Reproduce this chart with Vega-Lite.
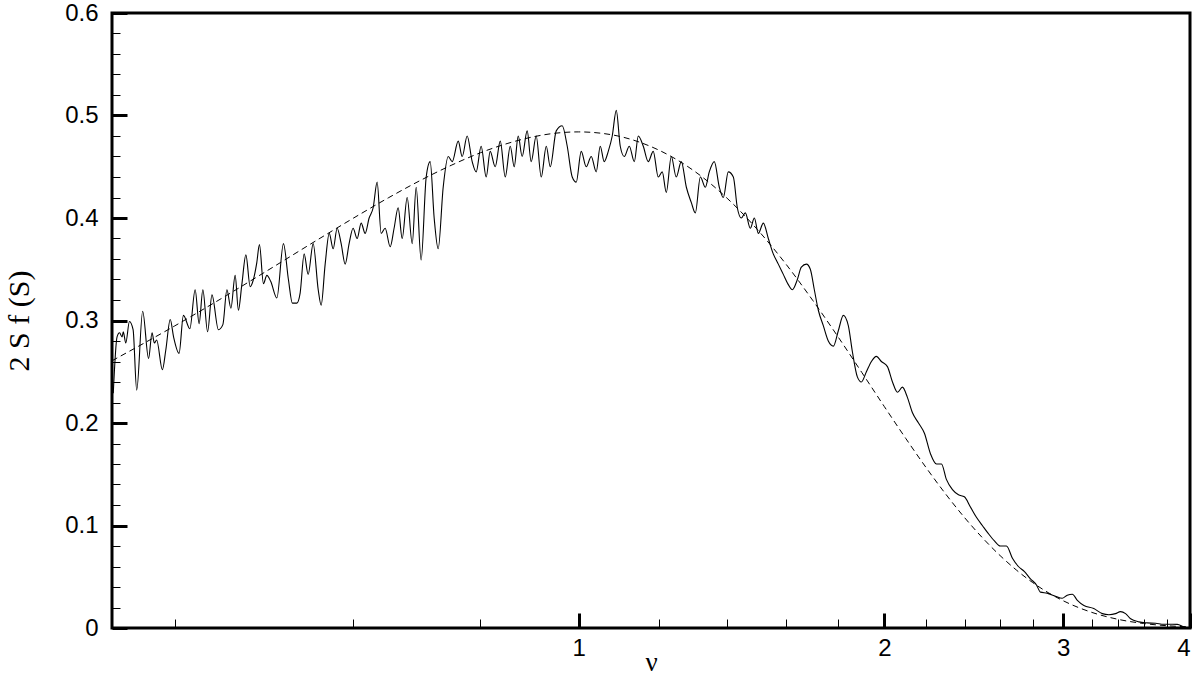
{
  "$schema": "https://vega.github.io/schema/vega-lite/v6.json",
  "width": 1078,
  "height": 615,
  "autosize": "none",
  "padding": {"left": 112, "top": 13, "right": 10, "bottom": 52},
  "background": "white",
  "config": {
    "view": {"stroke": "black", "strokeWidth": 3},
    "axis": {
      "domain": false,
      "grid": false,
      "labelFont": "Liberation Sans",
      "labelFontSize": 24,
      "labelColor": "black",
      "titleFont": "Liberation Serif",
      "titleFontWeight": "normal",
      "titleColor": "black",
      "tickColor": "black"
    }
  },
  "datasets": {
    "solid": [
      {"nu": 0.348, "v": 0.229}, {"nu": 0.351, "v": 0.284}, {"nu": 0.353, "v": 0.288}, {"nu": 0.355, "v": 0.284},
      {"nu": 0.356, "v": 0.289}, {"nu": 0.358, "v": 0.278}, {"nu": 0.361, "v": 0.299}, {"nu": 0.364, "v": 0.291},
      {"nu": 0.367, "v": 0.232}, {"nu": 0.372, "v": 0.309}, {"nu": 0.377, "v": 0.263}, {"nu": 0.380, "v": 0.288},
      {"nu": 0.382, "v": 0.278}, {"nu": 0.384, "v": 0.281}, {"nu": 0.389, "v": 0.252}, {"nu": 0.392, "v": 0.271},
      {"nu": 0.396, "v": 0.301}, {"nu": 0.399, "v": 0.284}, {"nu": 0.404, "v": 0.268}, {"nu": 0.408, "v": 0.305},
      {"nu": 0.414, "v": 0.292}, {"nu": 0.419, "v": 0.330}, {"nu": 0.4228, "v": 0.297}, {"nu": 0.4264, "v": 0.330},
      {"nu": 0.431, "v": 0.289}, {"nu": 0.4353, "v": 0.325}, {"nu": 0.4417, "v": 0.291}, {"nu": 0.4462, "v": 0.296},
      {"nu": 0.4503, "v": 0.330}, {"nu": 0.4544, "v": 0.312}, {"nu": 0.4588, "v": 0.344}, {"nu": 0.4622, "v": 0.310},
      {"nu": 0.4658, "v": 0.335}, {"nu": 0.4701, "v": 0.364}, {"nu": 0.4747, "v": 0.333}, {"nu": 0.4782, "v": 0.340},
      {"nu": 0.4818, "v": 0.356}, {"nu": 0.4848, "v": 0.374}, {"nu": 0.4892, "v": 0.336}, {"nu": 0.4930, "v": 0.344},
      {"nu": 0.4974, "v": 0.338}, {"nu": 0.5043, "v": 0.322}, {"nu": 0.5119, "v": 0.375}, {"nu": 0.5177, "v": 0.340},
      {"nu": 0.5224, "v": 0.317}, {"nu": 0.5277, "v": 0.317}, {"nu": 0.5317, "v": 0.327}, {"nu": 0.5365, "v": 0.365},
      {"nu": 0.5414, "v": 0.345}, {"nu": 0.5476, "v": 0.375}, {"nu": 0.5539, "v": 0.330}, {"nu": 0.5576, "v": 0.315},
      {"nu": 0.5627, "v": 0.355}, {"nu": 0.5679, "v": 0.385}, {"nu": 0.5730, "v": 0.370}, {"nu": 0.5782, "v": 0.390},
      {"nu": 0.5835, "v": 0.375}, {"nu": 0.5888, "v": 0.355}, {"nu": 0.5941, "v": 0.375}, {"nu": 0.5995, "v": 0.390},
      {"nu": 0.6050, "v": 0.380}, {"nu": 0.6106, "v": 0.395}, {"nu": 0.6161, "v": 0.385}, {"nu": 0.6217, "v": 0.400},
      {"nu": 0.6274, "v": 0.410}, {"nu": 0.6331, "v": 0.435}, {"nu": 0.6389, "v": 0.385}, {"nu": 0.6447, "v": 0.390},
      {"nu": 0.6521, "v": 0.372}, {"nu": 0.6579, "v": 0.390}, {"nu": 0.6640, "v": 0.410}, {"nu": 0.6701, "v": 0.380},
      {"nu": 0.6777, "v": 0.420}, {"nu": 0.6855, "v": 0.375}, {"nu": 0.6917, "v": 0.430}, {"nu": 0.6995, "v": 0.359},
      {"nu": 0.7076, "v": 0.440}, {"nu": 0.7140, "v": 0.455}, {"nu": 0.7205, "v": 0.400}, {"nu": 0.7271, "v": 0.370},
      {"nu": 0.7354, "v": 0.430}, {"nu": 0.7438, "v": 0.460}, {"nu": 0.7506, "v": 0.455}, {"nu": 0.7609, "v": 0.475},
      {"nu": 0.7678, "v": 0.460}, {"nu": 0.7765, "v": 0.480}, {"nu": 0.7854, "v": 0.455}, {"nu": 0.7925, "v": 0.445},
      {"nu": 0.8015, "v": 0.470}, {"nu": 0.8107, "v": 0.440}, {"nu": 0.8181, "v": 0.465}, {"nu": 0.8275, "v": 0.450},
      {"nu": 0.8370, "v": 0.475}, {"nu": 0.8465, "v": 0.440}, {"nu": 0.8562, "v": 0.470}, {"nu": 0.8639, "v": 0.450},
      {"nu": 0.8718, "v": 0.480}, {"nu": 0.8796, "v": 0.460}, {"nu": 0.8897, "v": 0.485}, {"nu": 0.8978, "v": 0.455},
      {"nu": 0.9081, "v": 0.480}, {"nu": 0.9185, "v": 0.440}, {"nu": 0.9291, "v": 0.470}, {"nu": 0.9375, "v": 0.450},
      {"nu": 0.9503, "v": 0.485}, {"nu": 0.9633, "v": 0.490}, {"nu": 0.9743, "v": 0.470}, {"nu": 0.9854, "v": 0.440},
      {"nu": 0.9944, "v": 0.435}, {"nu": 1.0057, "v": 0.465}, {"nu": 1.0172, "v": 0.450}, {"nu": 1.0288, "v": 0.460},
      {"nu": 1.0405, "v": 0.445}, {"nu": 1.0500, "v": 0.470}, {"nu": 1.0595, "v": 0.455}, {"nu": 1.0693, "v": 0.465},
      {"nu": 1.0790, "v": 0.480}, {"nu": 1.0889, "v": 0.505}, {"nu": 1.0988, "v": 0.470}, {"nu": 1.1089, "v": 0.460},
      {"nu": 1.1215, "v": 0.470}, {"nu": 1.1344, "v": 0.455}, {"nu": 1.1447, "v": 0.480}, {"nu": 1.1577, "v": 0.470},
      {"nu": 1.1708, "v": 0.455}, {"nu": 1.1841, "v": 0.465}, {"nu": 1.1976, "v": 0.440}, {"nu": 1.2086, "v": 0.445},
      {"nu": 1.2197, "v": 0.425}, {"nu": 1.2336, "v": 0.460}, {"nu": 1.2475, "v": 0.440}, {"nu": 1.2619, "v": 0.455},
      {"nu": 1.2765, "v": 0.430}, {"nu": 1.2910, "v": 0.415}, {"nu": 1.3027, "v": 0.405}, {"nu": 1.3177, "v": 0.440},
      {"nu": 1.3326, "v": 0.430}, {"nu": 1.3446, "v": 0.445}, {"nu": 1.3600, "v": 0.455}, {"nu": 1.3756, "v": 0.430},
      {"nu": 1.3881, "v": 0.420}, {"nu": 1.4039, "v": 0.445}, {"nu": 1.4200, "v": 0.440}, {"nu": 1.4329, "v": 0.410},
      {"nu": 1.4458, "v": 0.400}, {"nu": 1.4591, "v": 0.405}, {"nu": 1.4758, "v": 0.390}, {"nu": 1.4893, "v": 0.400},
      {"nu": 1.5028, "v": 0.385}, {"nu": 1.5200, "v": 0.395}, {"nu": 1.5372, "v": 0.380}, {"nu": 1.5546, "v": 0.365},
      {"nu": 1.5725, "v": 0.355}, {"nu": 1.5904, "v": 0.345}, {"nu": 1.6085, "v": 0.335}, {"nu": 1.6233, "v": 0.330},
      {"nu": 1.6419, "v": 0.340}, {"nu": 1.6568, "v": 0.352}, {"nu": 1.6758, "v": 0.355}, {"nu": 1.6909, "v": 0.350},
      {"nu": 1.7063, "v": 0.330}, {"nu": 1.7219, "v": 0.310}, {"nu": 1.7414, "v": 0.295}, {"nu": 1.7613, "v": 0.280},
      {"nu": 1.7815, "v": 0.275}, {"nu": 1.8017, "v": 0.290}, {"nu": 1.8223, "v": 0.305}, {"nu": 1.8430, "v": 0.295},
      {"nu": 1.8598, "v": 0.270}, {"nu": 1.8812, "v": 0.245}, {"nu": 1.8983, "v": 0.240}, {"nu": 1.9202, "v": 0.250},
      {"nu": 1.9421, "v": 0.260}, {"nu": 1.9643, "v": 0.265}, {"nu": 1.9866, "v": 0.260}, {"nu": 2.0140, "v": 0.255},
      {"nu": 2.0372, "v": 0.240}, {"nu": 2.0605, "v": 0.230}, {"nu": 2.0837, "v": 0.235}, {"nu": 2.1073, "v": 0.225},
      {"nu": 2.1317, "v": 0.210}, {"nu": 2.1610, "v": 0.200}, {"nu": 2.1902, "v": 0.190}, {"nu": 2.2204, "v": 0.170},
      {"nu": 2.2510, "v": 0.160}, {"nu": 2.2765, "v": 0.160}, {"nu": 2.3021, "v": 0.145}, {"nu": 2.3340, "v": 0.135},
      {"nu": 2.3660, "v": 0.130}, {"nu": 2.3979, "v": 0.128}, {"nu": 2.4311, "v": 0.118}, {"nu": 2.4644, "v": 0.108},
      {"nu": 2.4978, "v": 0.100}, {"nu": 2.5324, "v": 0.092}, {"nu": 2.5671, "v": 0.085}, {"nu": 2.6018, "v": 0.080},
      {"nu": 2.6380, "v": 0.080}, {"nu": 2.6741, "v": 0.068}, {"nu": 2.7106, "v": 0.060}, {"nu": 2.7481, "v": 0.055},
      {"nu": 2.7856, "v": 0.048}, {"nu": 2.8239, "v": 0.042}, {"nu": 2.8497, "v": 0.035}, {"nu": 2.8929, "v": 0.034},
      {"nu": 2.9483, "v": 0.031}, {"nu": 2.9933, "v": 0.029}, {"nu": 3.0281, "v": 0.032}, {"nu": 3.0632, "v": 0.033},
      {"nu": 3.0982, "v": 0.027}, {"nu": 3.1446, "v": 0.022}, {"nu": 3.2157, "v": 0.019}, {"nu": 3.2787, "v": 0.014},
      {"nu": 3.3281, "v": 0.013}, {"nu": 3.3783, "v": 0.014}, {"nu": 3.4167, "v": 0.016}, {"nu": 3.4563, "v": 0.014},
      {"nu": 3.4960, "v": 0.009}, {"nu": 3.5619, "v": 0.006}, {"nu": 3.6303, "v": 0.005}, {"nu": 3.7000, "v": 0.0046},
      {"nu": 3.7697, "v": 0.0036}, {"nu": 3.8425, "v": 0.0036}, {"nu": 3.8867, "v": 0.0035}, {"nu": 3.9451, "v": 0.001},
      {"nu": 3.987, "v": 0.0}
    ],
    "dashed": [
      {"nu": 0.347, "v": 0.2607}, {"nu": 0.4, "v": 0.2947}, {"nu": 0.45, "v": 0.3245}, {"nu": 0.5, "v": 0.3521},
      {"nu": 0.55, "v": 0.3773}, {"nu": 0.6, "v": 0.3999}, {"nu": 0.65, "v": 0.4199}, {"nu": 0.7, "v": 0.4372},
      {"nu": 0.75, "v": 0.4517}, {"nu": 0.8, "v": 0.4636}, {"nu": 0.85, "v": 0.4726}, {"nu": 0.9, "v": 0.4790},
      {"nu": 0.95, "v": 0.4828}, {"nu": 1.0, "v": 0.4840}, {"nu": 1.05, "v": 0.4828}, {"nu": 1.1, "v": 0.4794},
      {"nu": 1.15, "v": 0.4737}, {"nu": 1.2, "v": 0.4661}, {"nu": 1.3, "v": 0.4457}, {"nu": 1.4, "v": 0.4193},
      {"nu": 1.5, "v": 0.3886}, {"nu": 1.6, "v": 0.3550}, {"nu": 1.7, "v": 0.3197}, {"nu": 1.8, "v": 0.2843},
      {"nu": 1.9, "v": 0.2494}, {"nu": 2.0, "v": 0.2160}, {"nu": 2.1, "v": 0.1848}, {"nu": 2.2, "v": 0.1561},
      {"nu": 2.3, "v": 0.1303}, {"nu": 2.4, "v": 0.1075}, {"nu": 2.5, "v": 0.0877}, {"nu": 2.6, "v": 0.0707},
      {"nu": 2.7, "v": 0.0563}, {"nu": 2.8, "v": 0.0443}, {"nu": 2.9, "v": 0.0345}, {"nu": 3.0, "v": 0.0266},
      {"nu": 3.2, "v": 0.0153}, {"nu": 3.4, "v": 0.0084}, {"nu": 3.6, "v": 0.0044}, {"nu": 3.8, "v": 0.0022},
      {"nu": 4.0, "v": 0.0011}
    ]
  },
  "layer": [
    {
      "data": {"name": "solid"},
      "mark": {"type": "line", "color": "black", "strokeWidth": 1.1, "interpolate": "monotone", "clip": true},
      "encoding": {
        "x": {
          "field": "nu", "type": "quantitative",
          "scale": {"type": "log", "domain": [0.347, 4], "nice": false},
          "axis": {
            "orient": "bottom", "values": [1, 2, 3, 4], "tickSize": -15, "tickWidth": 3,
            "labelPadding": 23, "labelExpr": "format(datum.value, 'd')",
            "title": "ν", "titleFont": "Liberation Serif", "titleFontSize": 27, "titlePadding": -11
          }
        },
        "y": {
          "field": "v", "type": "quantitative",
          "scale": {"domain": [0, 0.6], "nice": false, "zero": true},
          "axis": {
            "orient": "left", "values": [0, 0.1, 0.2, 0.3, 0.4, 0.5, 0.6], "tickSize": -15, "tickWidth": 3,
            "labelPadding": 29, "labelExpr": "datum.value == 0 ? '0' : format(datum.value, '.1f')",
            "title": "2 S f (S)", "titleFont": "Liberation Serif", "titleFontSize": 30, "titlePadding": 30
          }
        }
      }
    },
    {
      "data": {"name": "dashed"},
      "mark": {"type": "line", "color": "black", "strokeWidth": 1, "strokeDash": [6, 4], "interpolate": "monotone", "clip": true},
      "encoding": {
        "x": {
          "field": "nu", "type": "quantitative",
          "scale": {"type": "log", "domain": [0.347, 4], "nice": false},
          "axis": {
            "orient": "bottom", "values": [0.4, 0.6, 0.8, 1.2, 1.4, 1.6, 1.8, 2.2, 2.4, 2.6, 2.8, 3.2, 3.4, 3.6, 3.8],
            "tickSize": -9, "tickWidth": 1, "labels": false, "title": null
          }
        },
        "y": {
          "field": "v", "type": "quantitative",
          "scale": {"domain": [0, 0.6], "nice": false, "zero": true},
          "axis": {
            "orient": "left",
            "values": [0.02, 0.04, 0.06, 0.08, 0.12, 0.14, 0.16, 0.18, 0.22, 0.24, 0.26, 0.28, 0.32, 0.34, 0.36, 0.38, 0.42, 0.44, 0.46, 0.48, 0.52, 0.54, 0.56, 0.58],
            "tickSize": -8, "tickWidth": 1, "labels": false, "title": null
          }
        }
      }
    }
  ],
  "resolve": {"axis": {"x": "independent", "y": "independent"}}
}
